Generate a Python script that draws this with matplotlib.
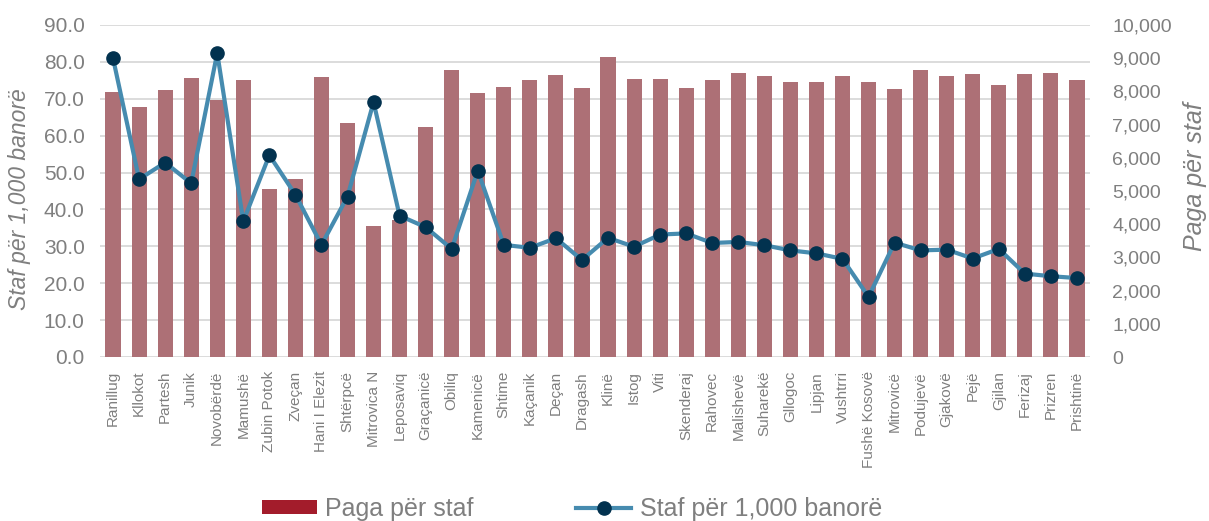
import numpy as np
import matplotlib
matplotlib.use('Agg')
import matplotlib.pyplot as plt
from matplotlib.patches import Patch
from matplotlib.lines import Line2D
from matplotlib.ticker import FuncFormatter

plt.rcParams['font.family'] = ['Liberation Sans', 'DejaVu Sans']

categories = ["Ranillug", "Kllokot", "Partesh", "Junik", "Novobërdë", "Mamushë",
              "Zubin Potok", "Zveçan", "Hani I Elezit", "Shtërpcë", "Mitrovica N",
              "Leposaviq", "Graçanicë", "Obiliq", "Kamenicë", "Shtime", "Kaçanik",
              "Deçan", "Dragash", "Klinë", "Istog", "Viti", "Skenderaj", "Rahovec",
              "Malishevë", "Suharekë", "Gllogoc", "Lipjan", "Vushtrri", "Fushë Kosovë",
              "Mitrovicë", "Podujevë", "Gjakovë", "Pejë", "Gjilan", "Ferizaj",
              "Prizren", "Prishtinë"]

paga_per_staf = [7980, 7530, 8040, 8400, 7740, 8340, 5060, 5360, 8430, 7050,
                 3950, 4120, 6930, 8650, 7950, 8130, 8340, 8490, 8100, 9040,
                 8370, 8370, 8100, 8340, 8550, 8460, 8280, 8280, 8460, 8280,
                 8070, 8650, 8460, 8520, 8190, 8520, 8550, 8340]

staf_per_1000 = [81.0, 48.2, 52.7, 47.1, 82.4, 36.8, 54.7, 44.0, 30.4, 43.5,
                 69.1, 38.3, 35.2, 29.3, 50.5, 30.4, 29.6, 32.2, 26.3, 32.3,
                 29.9, 33.2, 33.5, 30.9, 31.2, 30.3, 28.9, 28.1, 26.6, 16.3,
                 31.0, 28.9, 29.1, 26.7, 29.3, 22.6, 21.9, 21.4]

left_ticks = list(range(0, 91, 10))
right_ticks = list(range(0, 10001, 1000))

gray = '#7f7f7f'
bar_color = '#ad7076'
legend_bar_color = '#a31c2b'
line_color = '#468baf'
marker_color = '#02324f'
grid_color = '#d9d9d9'

W, H = 1209, 521
fig = plt.figure(figsize=(W / 100, H / 100), dpi=100)
ax = fig.add_axes([100 / W, 1 - 357 / H, 990 / W, 332 / H])
x = np.arange(len(categories))

ax.set_xlim(-0.5, len(categories) - 0.5)
ax.set_ylim(0, 90)
ax.set_yticks(left_ticks)
ax.yaxis.set_major_formatter(FuncFormatter(lambda v, p: f'{v:.1f}'))
ax.grid(axis='y', color=grid_color, lw=1.3)
ax.set_axisbelow(True)
for s in ax.spines.values():
    s.set_visible(False)
ax.tick_params(axis='y', length=0, pad=11, labelsize=15, labelcolor=gray)
ax.tick_params(axis='x', length=0, pad=10, labelsize=11, labelcolor=gray)
ax.set_xticks(x)
ax.set_xticklabels(categories, rotation=90, va='top', ha='center')

axb = ax.twinx()
axb.bar(x, paga_per_staf, width=0.58, color=bar_color)
axb.set_ylim(0, 10000)
axb.set_yticks(right_ticks)
axb.yaxis.set_major_formatter(FuncFormatter(lambda v, p: f'{v:,.0f}'))
axb.tick_params(axis='y', length=0, pad=16, labelsize=14, labelcolor=gray)
for s in axb.spines.values():
    s.set_visible(False)

axl = ax.twinx()
axl.plot(x, staf_per_1000, color=line_color, lw=3, marker='o', ms=9.5,
         mfc=marker_color, mec=marker_color, clip_on=False)
axl.set_ylim(0, 90)
axl.set_yticks([])
for s in axl.spines.values():
    s.set_visible(False)

fig.text(20 / W, 1 - 199 / H, 'Staf për 1,000 banorë', rotation=90, ha='center',
         va='center', fontsize=16.5, style='italic', color=gray)
fig.text(1195 / W, 1 - 177 / H, 'Paga për staf', rotation=90, ha='center',
         va='center', fontsize=18, style='italic', color=gray)

handles = [Patch(facecolor=legend_bar_color, edgecolor='none'),
           Line2D([], [], color=line_color, lw=3, marker='o', ms=9.5,
                  mfc=marker_color, mec=marker_color)]
leg = fig.legend(handles, ['Paga për staf', 'Staf për 1,000 banorë'], loc='center',
                 bbox_to_anchor=(572 / W, 1 - 509 / H), ncol=2, frameon=False,
                 fontsize=18, handlelength=2.2, handleheight=0.52,
                 handletextpad=0.33, columnspacing=4.1, borderpad=0, borderaxespad=0)
for t in leg.get_texts():
    t.set_color(gray)

fig.savefig('out.png', dpi=100)
